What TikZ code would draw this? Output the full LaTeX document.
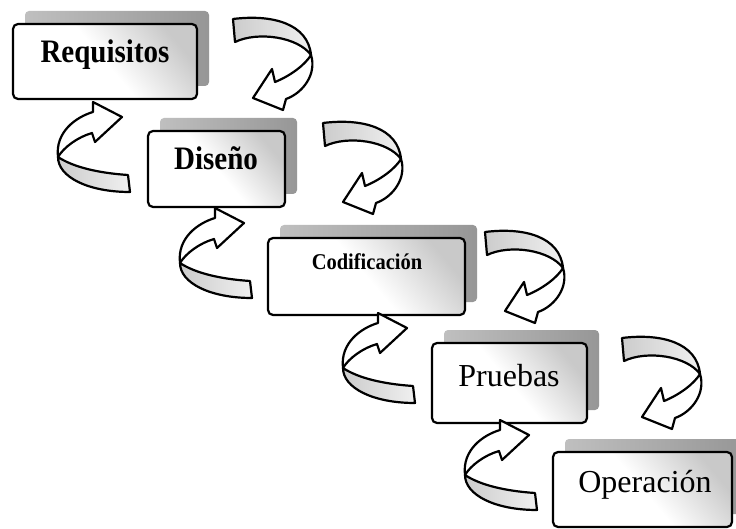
\documentclass[tikz,border=0pt]{standalone}
\usepackage{fontspec}
\setmainfont{Liberation Serif}
\begin{document}
\begin{tikzpicture}[x=1pt,y=-1pt,
  frontbox/.style={draw=black, line width=2.2pt, rounded corners=5pt, inner sep=0pt,
    top color=gray!42, bottom color=white, middle color=white, shading angle=-50},
  backbox/.style={draw=none, rounded corners=4pt, inner sep=0pt,
    left color=gray!50, right color=gray!82},
  band/.style={draw=black, line width=2.2pt, line join=round,
    left color=gray!40, right color=gray!12},
  shaft/.style={draw=black, line width=2.2pt, line join=round, fill=white},
  stagebold/.style={font=\bfseries\fontsize{29}{30}\selectfont, anchor=base, inner sep=0pt},
  stagesmall/.style={font=\bfseries\fontsize{20.5}{22}\selectfont, anchor=base, inner sep=0pt},
  stageplain/.style={font=\fontsize{32}{33}\selectfont, anchor=base, inner sep=0pt},
  % curved arrow on the right of a stage, bending down towards the next one
  rarrow/.pic={
    \path[band] (0,0) .. controls (40,-5) and (75,5) .. (78,36)
      .. controls (65,18) and (25,12) .. (2,23) -- cycle;
    \path[shaft] (78,36) .. controls (84,55) and (70,74) .. (53,80)
      -- (50,91) -- (20,79) -- (39,50) -- (42,63)
      .. controls (57,57) and (72,46) .. (78,36) -- cycle;
  },
  % curved arrow on the left of a stage, bending up towards the previous one
  larrow/.pic={
    \path[band] (0,0) .. controls (0,20) and (30,35) .. (72,35)
      -- (70,18) .. controls (40,16) and (15,10) .. (0,0) -- cycle;
    \path[shaft] (0,0) .. controls (-3,-25) and (18,-40) .. (35,-45)
      -- (35,-55) -- (64,-40) -- (37,-15) -- (34,-24)
      .. controls (20,-20) and (6,-10) .. (0,0) -- cycle;
  }
]
\useasboundingbox (0,0) rectangle (736,529);
\fill[white] (0,0) rectangle (736,529);

% stage boxes: shadow card behind, framed card in front
\node[backbox, minimum width=184pt, minimum height=75pt] (reqback) at (117,48.5) {};
\node[frontbox, minimum width=184pt, minimum height=75pt] (req) at (105,61.5) {};
\node[backbox, minimum width=137pt, minimum height=76pt] (disback) at (228.5,156) {};
\node[frontbox, minimum width=137pt, minimum height=76pt] (dis) at (216.5,169) {};
\node[backbox, minimum width=197pt, minimum height=77pt] (codback) at (378.5,263.5) {};
\node[frontbox, minimum width=197pt, minimum height=77pt] (cod) at (366.5,276.5) {};
\node[backbox, minimum width=155pt, minimum height=80pt] (pruback) at (521.5,370) {};
\node[frontbox, minimum width=155pt, minimum height=80pt] (pru) at (509.5,383) {};
\node[backbox, minimum width=179pt, minimum height=75pt] (opeback) at (654.5,476.5) {};
\node[frontbox, minimum width=179pt, minimum height=75pt] (ope) at (642.5,489.5) {};

% stage names
\node[stagebold] (reqtext) at (105,63) {\scalebox{1}[1.13]{Requisitos}};
\node[stagebold] (distext) at (216,170) {\scalebox{1}[1.13]{Diseño}};
\node[stagesmall] (codtext) at (367,270) {\scalebox{1}[1.1]{Codificación}};
\node[stageplain] (prutext) at (509,386) {Pruebas};
\node[stageplain] (opetext) at (645,492) {Operación};

% forward arrows
\pic at (233,19) {rarrow};
\pic at (323,123) {rarrow};
\pic at (485,232) {rarrow};
\pic at (622,338) {rarrow};

% feedback arrows
\pic at (58,157) {larrow};
\pic at (180,263) {larrow};
\pic at (343,368) {larrow};
\pic at (465,475) {larrow};
\end{tikzpicture}
\end{document}
